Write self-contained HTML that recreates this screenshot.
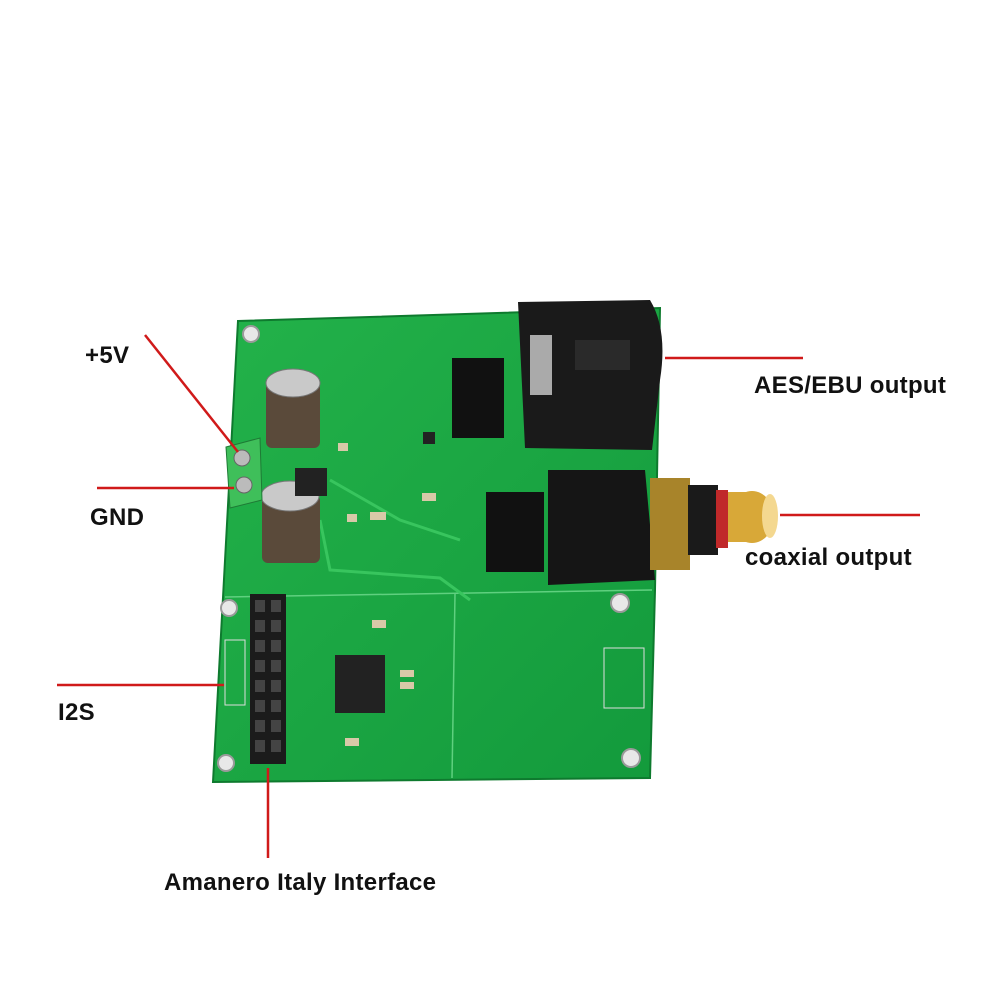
<!DOCTYPE html>
<html><head><style>
body{margin:0;background:#fff;}
.t{position:absolute;font-family:"Liberation Sans",sans-serif;font-size:24px;font-weight:bold;letter-spacing:0.3px;color:#111;}
</style></head><body>
<div style="position:relative;width:1000px;height:1000px;overflow:hidden;">
<svg width="1000" height="1000" style="position:absolute;left:0;top:0">
<defs>
<linearGradient id="g" x1="0" y1="0" x2="1" y2="1"><stop offset="0" stop-color="#23b24a"/><stop offset="1" stop-color="#139a3c"/></linearGradient>
</defs>
<polygon points="238,321 660,308 655,590 650,778 213,782" fill="url(#g)" stroke="#0e7a2e" stroke-width="2"/>
<line x1="225" y1="597" x2="652" y2="590" stroke="#5fd07f" stroke-width="1.5"/>
<line x1="455" y1="594" x2="452" y2="778" stroke="#5fd07f" stroke-width="1.5"/>
<path d="M320,520 L330,570 L440,578 L470,600" stroke="#38c55e" fill="none" stroke-width="3"/>
<path d="M330,480 L400,520 L460,540" stroke="#38c55e" fill="none" stroke-width="3"/>
<g fill="#e8e8e8" stroke="#9a9a9a" stroke-width="2">
<circle cx="251" cy="334" r="8"/><circle cx="229" cy="608" r="8"/><circle cx="226" cy="763" r="8"/>
<circle cx="620" cy="603" r="9"/><circle cx="631" cy="758" r="9"/>
</g>
<rect x="266" y="382" width="54" height="66" rx="6" fill="#5a4a3a"/>
<ellipse cx="293" cy="383" rx="27" ry="14" fill="#c9c9c9" stroke="#777"/>
<rect x="262" y="495" width="58" height="68" rx="6" fill="#5a4a3a"/>
<ellipse cx="290" cy="496" rx="29" ry="15" fill="#c9c9c9" stroke="#777"/>
<polygon points="226,447 260,438 262,500 230,508" fill="#3fbf5a" stroke="#1e7a35"/>
<circle cx="242" cy="458" r="8" fill="#bbb" stroke="#666"/><circle cx="244" cy="485" r="8" fill="#bbb" stroke="#666"/>
<rect x="295" y="468" width="32" height="28" fill="#222"/>
<path d="M518,302 L650,300 Q668,330 660,380 L652,450 L525,448 Z" fill="#1a1a1a"/>
<rect x="530" y="335" width="22" height="60" fill="#aaa"/>
<rect x="575" y="340" width="55" height="30" fill="#2a2a2a"/>
<rect x="452" y="358" width="52" height="80" fill="#111"/>
<rect x="486" y="492" width="58" height="80" fill="#111"/>
<path d="M548,470 L645,470 L655,580 L548,585 Z" fill="#151515"/>
<rect x="650" y="478" width="40" height="92" fill="#a8842a"/>
<rect x="688" y="485" width="30" height="70" fill="#1a1a1a"/>
<rect x="716" y="490" width="12" height="58" fill="#c0292a"/>
<ellipse cx="752" cy="517" rx="22" ry="26" fill="#d8a838"/>
<rect x="728" y="492" width="28" height="50" fill="#d8a838"/>
<ellipse cx="770" cy="516" rx="8" ry="22" fill="#f4d890"/>
<rect x="250" y="594" width="36" height="170" fill="#1b1b1b"/>
<g fill="#444">
<rect x="255" y="600" width="10" height="12"/><rect x="271" y="600" width="10" height="12"/>
<rect x="255" y="620" width="10" height="12"/><rect x="271" y="620" width="10" height="12"/>
<rect x="255" y="640" width="10" height="12"/><rect x="271" y="640" width="10" height="12"/>
<rect x="255" y="660" width="10" height="12"/><rect x="271" y="660" width="10" height="12"/>
<rect x="255" y="680" width="10" height="12"/><rect x="271" y="680" width="10" height="12"/>
<rect x="255" y="700" width="10" height="12"/><rect x="271" y="700" width="10" height="12"/>
<rect x="255" y="720" width="10" height="12"/><rect x="271" y="720" width="10" height="12"/>
<rect x="255" y="740" width="10" height="12"/><rect x="271" y="740" width="10" height="12"/>
</g>
<rect x="225" y="640" width="20" height="65" fill="none" stroke="#ddd"/>
<rect x="335" y="655" width="50" height="58" fill="#222"/>
<rect x="604" y="648" width="40" height="60" fill="none" stroke="#ddd"/>
<g fill="#d8c9a8"><rect x="338" y="443" width="10" height="8"/><rect x="370" y="512" width="16" height="8"/><rect x="347" y="514" width="10" height="8"/><rect x="372" y="620" width="14" height="8"/><rect x="400" y="670" width="14" height="7"/><rect x="400" y="682" width="14" height="7"/><rect x="345" y="738" width="14" height="8"/><rect x="422" y="493" width="14" height="8"/><rect x="423" y="432" width="12" height="12" fill="#222"/></g>
<g stroke="#d01a1a" stroke-width="2.5">
<line x1="145" y1="335" x2="238" y2="452"/>
<line x1="97" y1="488" x2="234" y2="488"/>
<line x1="57" y1="685" x2="224" y2="685"/>
<line x1="268" y1="768" x2="268" y2="858"/>
<line x1="665" y1="358" x2="803" y2="358"/>
<line x1="780" y1="515" x2="920" y2="515"/>
</g>
</svg>
<div class="t" style="left:85px;top:342px">+5V</div>
<div class="t" style="left:90px;top:504px">GND</div>
<div class="t" style="left:58px;top:699px">I2S</div>
<div class="t" style="left:164px;top:869px">Amanero Italy Interface</div>
<div class="t" style="left:754px;top:372px">AES/EBU output</div>
<div class="t" style="left:745px;top:544px">coaxial output</div>
</div>
</body></html>
